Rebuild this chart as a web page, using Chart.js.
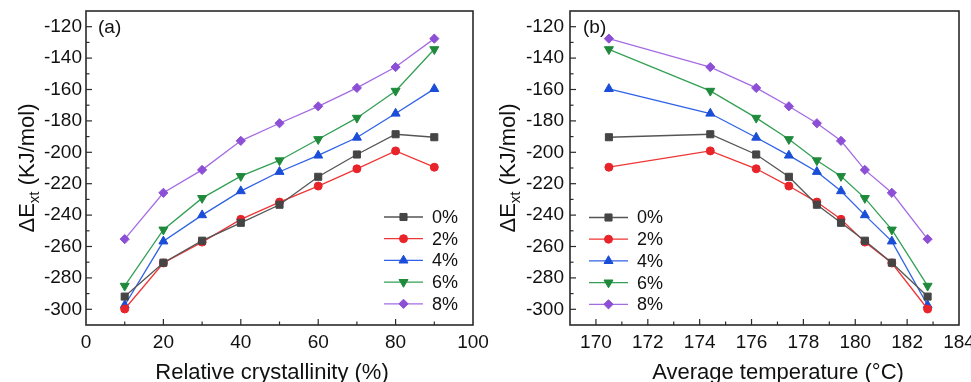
<!DOCTYPE html>
<html lang="en">
<head>
  <meta charset="UTF-8" />
  <title>Activation energy vs crystallinity and temperature</title>
  <script src="https://cdn.jsdelivr.net/npm/chart.js"></script>
  <style>
    html, body { margin: 0; padding: 0; background: #fff; overflow: hidden; }
    .panel { position: absolute; top: 0; height: 382px; }
    #pa { left: 0; width: 500px; z-index: 2; }
    #pb { left: 485px; width: 486px; z-index: 1; }
  </style>
</head>
<body>
  <div class="panel" id="pb"><canvas id="chartB"></canvas></div>
  <div class="panel" id="pa"><canvas id="chartA"></canvas></div>
  <script>
    // values
    const crystallinity = [10, 20, 30, 40, 50, 60, 70, 80, 90];
    const avgTemperature = [182.79, 181.41, 180.37, 179.45, 178.52, 177.44, 176.18, 174.41, 170.5];
    const seriesLabels = ['0%', '2%', '4%', '6%', '8%'];
    const e0 = [-291.9, -270.3, -256.3, -244.9, -233.4, -215.6, -201.4, -188.5, -190.4];
    const e2 = [-299.8, -270.5, -257.2, -242.7, -231.7, -221.5, -210.5, -199.1, -209.5];
    const e4 = [-297.4, -256.7, -240.0, -224.7, -212.4, -202.0, -190.6, -175.3, -159.6];
    const e6 = [-285.1, -249.3, -229.2, -215.2, -205.2, -191.7, -178.1, -160.9, -134.4];
    const e8 = [-255.3, -225.8, -211.2, -192.7, -181.5, -170.7, -159.0, -145.7, -127.6];
    const yTicks = { min: -310, max: -110, step: 10, labelEvery: 20 };

    const FONT = '"Liberation Sans", Arial, sans-serif';
    const styles = [
      { line: '#555555', fill: '#454545', shape: 'rect', r: 5, rot: 0 },
      { line: '#ef3535', fill: '#e8232a', shape: 'circle', r: 4, rot: 0 },
      { line: '#2f62e6', fill: '#1a4dd8', shape: 'triangle', r: 5.2, rot: 0 },
      { line: '#33a055', fill: '#1f8a3c', shape: 'triangle', r: 5.2, rot: 180 },
      { line: '#a56ce2', fill: '#8c4fd5', shape: 'rectRot', r: 4.6, rot: 0 }
    ];
    const allSeries = [e0, e2, e4, e6, e8];

    function makeDatasets(xs) {
      return allSeries.map((vals, i) => ({
        label: seriesLabels[i],
        data: vals.map((v, j) => ({ x: xs[j], y: v })),
        borderColor: styles[i].line,
        backgroundColor: styles[i].fill,
        borderWidth: 1.3,
        pointStyle: styles[i].shape,
        pointRadius: styles[i].r,
        pointRotation: styles[i].rot,
        pointBorderColor: styles[i].fill,
        pointBackgroundColor: styles[i].fill,
        pointBorderWidth: 1,
        tension: 0
      }));
    }

    // frame, inward ticks, titles, panel tag and legend
    const decor = {
      id: 'decor',
      afterDraw(chart, args, o) {
        const ctx = chart.ctx;
        const a = chart.chartArea;
        const xs = chart.scales.x, ys = chart.scales.y;
        ctx.save();
        ctx.strokeStyle = '#2a2a2a';
        ctx.lineWidth = 1.2;
        xs.ticks.forEach(t => {
          if (t.value <= xs.min || t.value >= xs.max) return;
          const px = xs.getPixelForValue(t.value);
          const len = (t.value % o.xMajor === 0) ? 6 : 3.5;
          ctx.beginPath();
          ctx.moveTo(px, a.bottom);
          ctx.lineTo(px, a.bottom - len);
          ctx.stroke();
        });
        ys.ticks.forEach(t => {
          if (t.value <= ys.min || t.value >= ys.max) return;
          const py = ys.getPixelForValue(t.value);
          const len = (t.value % yTicks.labelEvery === 0) ? 6 : 3.5;
          ctx.beginPath();
          ctx.moveTo(a.left, py);
          ctx.lineTo(a.left + len, py);
          ctx.stroke();
        });
        ctx.lineWidth = 1.6;
        ctx.strokeRect(a.left, a.top, a.right - a.left, a.bottom - a.top);

        ctx.fillStyle = '#111';
        // x title
        ctx.font = '22px ' + FONT;
        ctx.textAlign = 'center';
        ctx.textBaseline = 'alphabetic';
        ctx.fillText(o.xTitle, o.xTitleX, 379);

        // y title with subscript
        ctx.save();
        const cy = (a.top + a.bottom) / 2;
        ctx.translate(o.yTitleX, cy);
        ctx.rotate(-Math.PI / 2);
        const big = '22px ' + FONT, small = '15px ' + FONT;
        ctx.font = big;
        const w1 = ctx.measureText('\u0394E').width;
        const w3 = ctx.measureText(' (KJ/mol)').width;
        ctx.font = small;
        const w2 = ctx.measureText('xt').width;
        let x0 = -(w1 + w2 + w3) / 2;
        ctx.textAlign = 'left';
        ctx.font = big;
        ctx.fillText('\u0394E', x0, 0);
        ctx.font = small;
        ctx.fillText('xt', x0 + w1, 5);
        ctx.font = big;
        ctx.fillText(' (KJ/mol)', x0 + w1 + w2, 0);
        ctx.restore();

        // panel tag
        ctx.font = '19px ' + FONT;
        ctx.textAlign = 'left';
        ctx.textBaseline = 'middle';
        ctx.fillText(o.tag, a.left + o.tagDx, 28);

        // legend
        chart.data.datasets.forEach((ds, i) => {
          const y = o.legendY + i * 21.7;
          const lx = o.legendX;
          ctx.strokeStyle = ds.borderColor;
          ctx.lineWidth = 1.3;
          ctx.beginPath();
          ctx.moveTo(lx, y);
          ctx.lineTo(lx + 39, y);
          ctx.stroke();
          ctx.fillStyle = ds.pointBackgroundColor;
          ctx.strokeStyle = ds.pointBorderColor;
          ctx.lineWidth = 1;
          Chart.helpers.drawPoint(ctx, {
            pointStyle: ds.pointStyle, radius: ds.pointRadius,
            rotation: ds.pointRotation, borderWidth: 1
          }, lx + 19.5, y);
          ctx.fillStyle = '#111';
          ctx.font = '18px ' + FONT;
          ctx.textBaseline = 'middle';
          ctx.fillText(ds.label, lx + 48, y + 1);
        });
        ctx.restore();
      }
    };

    function makeChart(id, xs, xOpts, deco) {
      return new Chart(document.getElementById(id), {
        type: 'line',
        data: { datasets: makeDatasets(xs) },
        plugins: [decor],
        options: {
          responsive: true,
          maintainAspectRatio: false,
          animation: false,
          events: [],
          layout: { padding: { top: 11, right: deco.padRight, left: 0, bottom: 0 } },
          plugins: { legend: { display: false }, tooltip: { enabled: false }, decor: deco },
          scales: {
            x: {
              type: 'linear',
              min: xOpts.min, max: xOpts.max,
              grid: { display: false, drawTicks: false },
              border: { display: false },
              ticks: {
                stepSize: xOpts.step,
                autoSkip: false,
                maxRotation: 0,
                padding: 6,
                color: '#111',
                font: { family: FONT, size: 19 },
                callback: v => (v % xOpts.labelEvery === 0 ? String(v) : '')
              },
              afterFit: s => { s.height = 57; s.paddingLeft = 0; s.paddingRight = 0; }
            },
            y: {
              min: yTicks.min, max: yTicks.max,
              grid: { display: false, drawTicks: false },
              border: { display: false },
              ticks: {
                stepSize: yTicks.step,
                autoSkip: false,
                padding: deco.yPad,
                color: '#111',
                font: { family: FONT, size: 19 },
                callback: v => (v % yTicks.labelEvery === 0 ? String(v) : '')
              },
              afterFit: s => { s.width = deco.yWidth; s.paddingTop = 0; s.paddingBottom = 0; }
            }
          }
        }
      });
    }

    makeChart('chartA', crystallinity,
      { min: 0, max: 100, step: 10, labelEvery: 20 },
      { padRight: 27, yWidth: 86, yPad: 4, xMajor: 20, xTitle: 'Relative crystallinity (%)',
        xTitleX: 272, yTitleX: 34, tag: '(a)', tagDx: 12, legendX: 384, legendY: 217 });

    makeChart('chartB', avgTemperature,
      { min: 169, max: 184, step: 1, labelEvery: 2 },
      { padRight: 12, yWidth: 85, yPad: 6, xMajor: 2, xTitle: 'Average temperature (\u00B0C)',
        xTitleX: 293, yTitleX: 30, tag: '(b)', tagDx: 13, legendX: 104, legendY: 217.5 });
  </script>
</body>
</html>
